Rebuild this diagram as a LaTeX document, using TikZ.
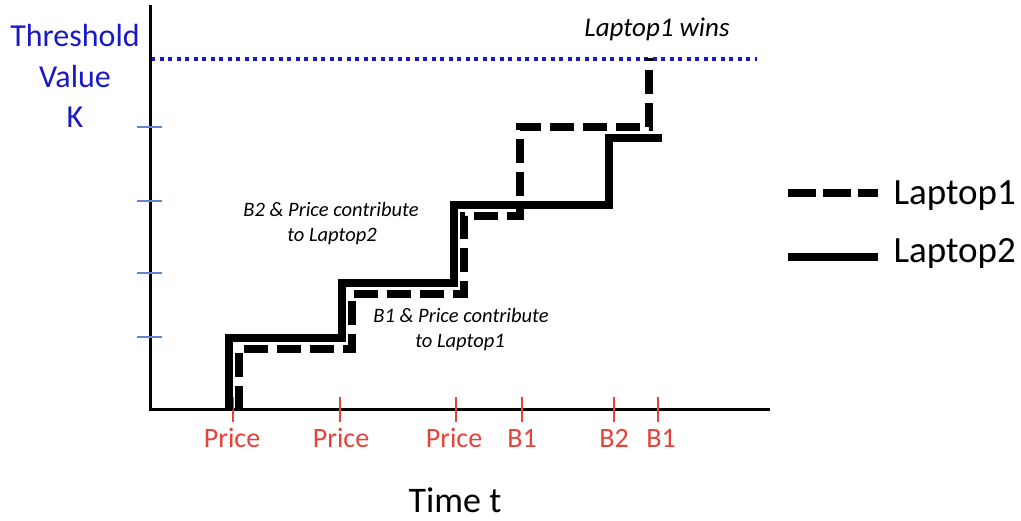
\documentclass[tikz,border=0pt]{standalone}
\usepackage{fontspec}
\setmainfont{Carlito}
\definecolor{tblue}{RGB}{25,25,200}
\definecolor{tickblue}{RGB}{100,130,205}
\definecolor{tred}{RGB}{232,65,58}
\begin{document}
\begin{tikzpicture}[x=1pt,y=-1pt,
  axisline/.style={line width=3pt,black},
  solidstep/.style={line width=8pt,black,line join=miter},
  dashstep/.style={line width=8pt,black,line join=miter,dash pattern=on 24pt off 9pt},
  ytick/.style={tickblue,line width=1.3pt},
  xtick/.style={tred,line width=1.3pt},
  ylab/.style={tblue,anchor=base,font=\fontsize{32}{38}\selectfont},
  xlab/.style={tred,anchor=base,font=\fontsize{28}{34}\selectfont},
  note/.style={anchor=base,font=\fontsize{20.5}{24}\selectfont\itshape},
  legtext/.style={anchor=base west,font=\fontsize{37}{44}\selectfont},
]
\useasboundingbox (0,0) rectangle (1021,521);

% y-axis label
\node[ylab] (th) at (75,47) {Threshold};
\node[ylab] (va) at (75,88) {Value};
\node[ylab] (kk) at (75,128) {K};

% threshold line
\coordinate (thA) at (151,59);
\coordinate (thB) at (757,59);
\draw[tblue,line width=3.5pt,dash pattern=on 4pt off 4.5pt] (thA) -- (thB);

% axes
\coordinate (ytop) at (150,5);
\coordinate (orig) at (150,410);
\coordinate (xend) at (770,410);
\draw[axisline] (ytop) -- (orig) -- (xend);

% y ticks
\foreach \yy in {127,201,273,337}{
  \draw[ytick] (137,\yy) -- (162,\yy);
}

% x ticks
\foreach \xx in {233,340,456,522,614,658}{
  \draw[xtick] (\xx,397) -- (\xx,422);
}
\node[xlab] (p1) at (232,447) {Price};
\node[xlab] (p2) at (341,447) {Price};
\node[xlab] (p3) at (454,447) {Price};
\node[xlab] (b1) at (522,447) {B1};
\node[xlab] (b2) at (614,447) {B2};
\node[xlab] (b3) at (661,447) {B1};

% Laptop2 (solid)
\draw[solidstep] (229,410) -- (229,338) -- (342,338) -- (342,283) -- (454,283)
  -- (454,205) -- (609,205) -- (609,138) -- (662,138);

% Laptop1 (dashed)
\draw[dashstep] (239,410) -- (239,349) -- (352,349) -- (352,294) -- (464,294)
  -- (464,216) -- (520,216) -- (520,127) -- (649,127) -- (649,58);

% annotations
\node[note,font=\fontsize{27}{32}\selectfont\itshape] (win) at (657,37) {Laptop1 wins};
\node[note] (n1a) at (331,217) {B2 \& Price contribute};
\node[note] (n1b) at (332,242) {to Laptop2};
\node[note] (n2a) at (461,323) {B1 \& Price contribute};
\node[note] (n2b) at (460,348) {to Laptop1};

% legend
\coordinate (l1a) at (788,193);
\coordinate (l1b) at (878,193);
\coordinate (l2a) at (788,257);
\coordinate (l2b) at (878,257);
\draw[line width=8pt,dash pattern=on 28pt off 7pt] (l1a) -- (l1b);
\draw[line width=8pt] (l2a) -- (l2b);
\node[legtext] (lg1) at (890,205) {Laptop1};
\node[legtext] (lg2) at (890,263) {Laptop2};

% x-axis label
\node[anchor=base,font=\fontsize{36}{43}\selectfont] (tt) at (455,512) {Time t};
\end{tikzpicture}
\end{document}
